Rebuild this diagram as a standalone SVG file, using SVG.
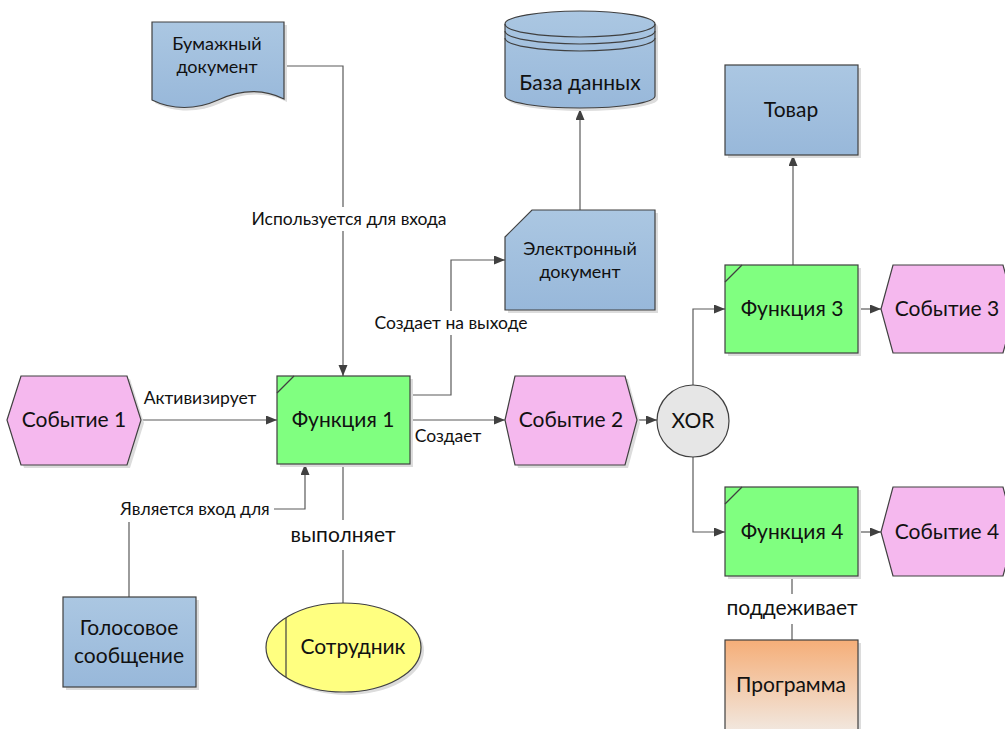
<svg xmlns="http://www.w3.org/2000/svg" width="1005" height="729" viewBox="0 0 1005 729">
  <defs>
    <linearGradient id="blueFill" x1="0" y1="0" x2="0" y2="1">
      <stop offset="0" stop-color="#abc7e2"/>
      <stop offset="1" stop-color="#98b8da"/>
    </linearGradient>
    <linearGradient id="orangeFill" x1="0" y1="0" x2="0" y2="1">
      <stop offset="0" stop-color="#f5ae78"/>
      <stop offset="1" stop-color="#f1ede9"/>
    </linearGradient>
    <marker id="arrow" markerUnits="userSpaceOnUse" markerWidth="12" markerHeight="10" refX="11" refY="4.5" orient="auto">
      <path d="M0,0 L11,4.5 L0,9 z" fill="#404040"/>
    </marker>
  </defs>
  <style>
    .shape { stroke: #404040; stroke-width: 1.2; }
    .shadow { fill: #dcdcdc; stroke: none; }
    .event { fill: #f5b8ee; }
    .func { fill: #80ff80; }
    .obj { fill: url(#blueFill); }
    .conn { fill: none; stroke: #5a5a5a; stroke-width: 1.2; }
    .bg { fill: #ffffff; stroke: none; }
    text { font-family: Lato, "Open Sans", "Liberation Sans", sans-serif; fill: #111111; text-anchor: middle; }
    .big { font-size: 21px; }
    .mid { font-size: 18px; }
    .lbl { font-size: 17.5px; }
  </style>
  <rect width="1005" height="729" fill="#ffffff"/>

  <!-- connectors -->
  <g id="connectors">
    <path class="conn" d="M284,66 H343 V376" marker-end="url(#arrow)"/>
    <path class="conn" d="M141,420 H277" marker-end="url(#arrow)"/>
    <path class="conn" d="M410,395 H451 V260 H505" marker-end="url(#arrow)"/>
    <path class="conn" d="M410,420 H505" marker-end="url(#arrow)"/>
    <path class="conn" d="M580,210 V109" marker-end="url(#arrow)"/>
    <path class="conn" d="M637,420 H657" marker-end="url(#arrow)"/>
    <path class="conn" d="M693,385 V309 H725" marker-end="url(#arrow)"/>
    <path class="conn" d="M693,457 V532 H725" marker-end="url(#arrow)"/>
    <path class="conn" d="M793,265 V155" marker-end="url(#arrow)"/>
    <path class="conn" d="M858,309 H881" marker-end="url(#arrow)"/>
    <path class="conn" d="M858,532 H881" marker-end="url(#arrow)"/>
    <path class="conn" d="M792,576 V640"/>
    <path class="conn" d="M129,597 V509 H305 V464" marker-end="url(#arrow)"/>
    <path class="conn" d="M343,464 V603"/>

    <rect class="bg" x="246" y="207" width="206" height="24"/>
    <text class="lbl" x="349" y="225">Используется для входа</text>
    <text class="lbl" x="200" y="404">Активизирует</text>
    <rect class="bg" x="370" y="311" width="162" height="24"/>
    <text class="lbl" x="451" y="329">Создает на выходе</text>
    <text class="lbl" x="448" y="442">Создает</text>
    <rect class="bg" x="115" y="497" width="159" height="25"/>
    <text class="lbl" x="195" y="515">Является вход для</text>
    <rect class="bg" x="286" y="520" width="114" height="30"/>
    <text class="big" x="343" y="542">выполняет</text>
    <rect class="bg" x="722" y="594" width="140" height="30"/>
    <text class="big" x="792" y="615">поддеживает</text>
  </g>

  <!-- paper document -->
  <g id="paper-doc">
    <path class="shadow" d="M155,25 H287 V102 C265,91 243,93 221,103 C199,113 175,113 155,103 Z"/>
    <path class="shape obj" d="M152,22 H284 V99 C262,88 240,90 218,100 C196,110 172,110 152,100 Z"/>
    <text class="mid" x="217" y="50">Бумажный</text>
    <text class="mid" x="217" y="73">документ</text>
  </g>

  <!-- database -->
  <g id="database">
    <path class="shadow" d="M508,27 A75,13 0 0 1 658,27 V99 A75,12 0 0 1 508,99 Z"/>
    <path class="shape obj" d="M505,24 A75,13 0 0 1 655,24 V96 A75,12 0 0 1 505,96 Z"/>
    <path class="shape" fill="none" d="M505,24 A75,13 0 0 0 655,24"/>
    <path class="shape" fill="none" d="M505,31 A75,13 0 0 0 655,31"/>
    <path class="shape" fill="none" d="M505,38 A75,13 0 0 0 655,38"/>
    <text class="big" x="580" y="90">База данных</text>
  </g>

  <!-- electronic document -->
  <g id="e-doc">
    <path class="shadow" d="M508,240 L535,213 H658 V313 H508 Z"/>
    <path class="shape obj" d="M505,237 L532,210 H655 V310 H505 Z"/>
    <text class="mid" x="580" y="255">Электронный</text>
    <text class="mid" x="580" y="278">документ</text>
  </g>

  <!-- event 1 -->
  <g id="event-1">
    <path class="shadow" d="M10,423 L24,379 H130 L144,423 L130,468 H24 Z"/>
    <path class="shape event" d="M7,420 L21,376 H127 L141,420 L127,465 H21 Z"/>
    <text class="big" x="74" y="427">Событие 1</text>
  </g>

  <!-- function 1 -->
  <g id="function-1">
    <rect class="shadow" x="280" y="379" width="133" height="88"/>
    <rect class="shape func" x="277" y="376" width="133" height="88"/>
    <path class="shape" fill="none" d="M277,393 L294,376"/>
    <text class="big" x="343" y="427">Функция 1</text>
  </g>

  <!-- event 2 -->
  <g id="event-2">
    <path class="shadow" d="M508,423 L518,379 H628 L640,423 L628,468 H518 Z"/>
    <path class="shape event" d="M505,420 L515,376 H625 L637,420 L625,465 H515 Z"/>
    <text class="big" x="571" y="427">Событие 2</text>
  </g>

  <!-- XOR gateway -->
  <g id="xor">
    <circle class="shape" cx="693" cy="421" r="36" fill="#e6e6e6"/>
    <text class="big" x="693" y="428">XOR</text>
  </g>

  <!-- product -->
  <g id="product">
    <rect class="shadow" x="728" y="68" width="133" height="90"/>
    <rect class="shape obj" x="725" y="65" width="133" height="90"/>
    <text class="big" x="791" y="117">Товар</text>
  </g>

  <!-- function 3 -->
  <g id="function-3">
    <rect class="shadow" x="728" y="268" width="133" height="88"/>
    <rect class="shape func" x="725" y="265" width="133" height="88"/>
    <path class="shape" fill="none" d="M725,282 L742,265"/>
    <text class="big" x="792" y="316">Функция 3</text>
  </g>

  <!-- event 3 -->
  <g id="event-3">
    <path class="shape event" d="M881,309 L893,265 H1003 L1015,309 L1003,353 H893 Z"/>
    <text class="big" x="947" y="316">Событие 3</text>
  </g>

  <!-- function 4 -->
  <g id="function-4">
    <rect class="shadow" x="728" y="490" width="133" height="89"/>
    <rect class="shape func" x="725" y="487" width="133" height="89"/>
    <path class="shape" fill="none" d="M725,504 L742,487"/>
    <text class="big" x="792" y="539">Функция 4</text>
  </g>

  <!-- event 4 -->
  <g id="event-4">
    <path class="shape event" d="M881,532 L893,487 H1003 L1015,532 L1003,576 H893 Z"/>
    <text class="big" x="947" y="539">Событие 4</text>
  </g>

  <!-- software -->
  <g id="software">
    <rect class="shadow" x="728" y="643" width="133" height="100"/>
    <rect class="shape" x="725" y="640" width="133" height="100" fill="url(#orangeFill)"/>
    <text class="big" x="791" y="692">Программа</text>
  </g>

  <!-- voice message -->
  <g id="voice-msg">
    <rect class="shadow" x="66" y="600" width="133" height="90"/>
    <rect class="shape obj" x="63" y="597" width="133" height="90"/>
    <text class="big" x="129" y="635">Голосовое</text>
    <text class="big" x="129" y="663">сообщение</text>
  </g>

  <!-- employee -->
  <g id="employee">
    <ellipse class="shadow" cx="346.5" cy="650.5" rx="77.5" ry="44.5"/>
    <ellipse class="shape" cx="343.5" cy="647.5" rx="77.5" ry="44.5" fill="#ffff80"/>
    <path class="shape" fill="none" d="M286,618 V677"/>
    <text class="big" x="353" y="654">Сотрудник</text>
  </g>
</svg>
